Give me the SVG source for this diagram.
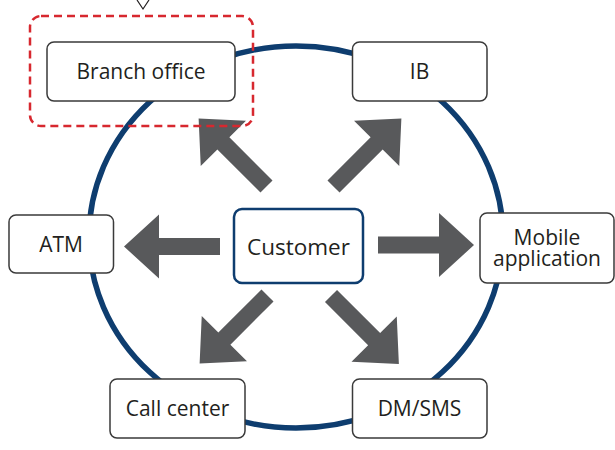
<svg xmlns="http://www.w3.org/2000/svg" xmlns:xlink="http://www.w3.org/1999/xlink" width="615" height="450" viewBox="0 0 615 450">
  <style>
    .box { fill: #ffffff; stroke: #3a3a3a; stroke-width: 1.5; }
    .core { fill: #ffffff; stroke: #0e3d6f; stroke-width: 2.5; }
    .label { font-family: "Open Sans", "Noto Sans", sans-serif; font-size: 21px; fill: #231f20; text-anchor: middle; }
    .big { font-size: 22.5px; }
    .arrow { fill: #58595b; }
  </style>
  <defs>
    <!-- block arrow pointing along +x, origin at tail centre -->
    <path id="blockArrow" d="M0,-8.5 L61,-8.5 L61,-32 L96,0 L61,32 L61,8.5 L0,8.5 Z"/>
  </defs>

  <rect width="615" height="450" fill="#ffffff"/>

  <!-- channel ring -->
  <ellipse cx="296" cy="237" rx="207" ry="191" fill="none" stroke="#0e3d6f" stroke-width="5.5"/>

  <!-- marker above the highlighted node -->
  <polyline points="137,0 143,9 149,0" fill="none" stroke="#231f20" stroke-width="1.2"/>

  <g id="connectors" class="arrow">
    <use xlink:href="#blockArrow" transform="translate(266.5,186.5) rotate(-135)"/>
    <use xlink:href="#blockArrow" transform="translate(333.5,186.5) rotate(-45)"/>
    <use xlink:href="#blockArrow" transform="translate(220,246.5) rotate(180)"/>
    <use xlink:href="#blockArrow" transform="translate(378,245)"/>
    <use xlink:href="#blockArrow" transform="translate(267.5,295.5) rotate(135)"/>
    <use xlink:href="#blockArrow" transform="translate(331,296) rotate(45)"/>
  </g>

  <g id="branch-office">
    <rect class="box" x="47" y="42" width="188" height="59" rx="7"/>
    <text class="label" x="141" y="79">Branch office</text>
  </g>

  <g id="ib">
    <rect class="box" x="352.5" y="42" width="134.5" height="59" rx="7"/>
    <text class="label" x="419.5" y="79">IB</text>
  </g>

  <g id="atm">
    <rect class="box" x="9" y="215" width="104.5" height="58" rx="7"/>
    <text class="label" x="61" y="251.5">ATM</text>
  </g>

  <g id="customer">
    <rect class="core" x="234" y="209" width="129" height="74" rx="8"/>
    <text class="label big" x="298.5" y="254.5">Customer</text>
  </g>

  <g id="mobile-application">
    <rect class="box" x="480" y="213" width="134" height="70" rx="7"/>
    <text class="label" x="547" y="245"><tspan x="547">Mobile</tspan><tspan x="547" dy="21">application</tspan></text>
  </g>

  <g id="call-center">
    <rect class="box" x="110" y="379" width="135" height="59" rx="7"/>
    <text class="label" x="177.5" y="416">Call center</text>
  </g>

  <g id="dm-sms">
    <rect class="box" x="352.5" y="379" width="134.5" height="59" rx="7"/>
    <text class="label" x="419.5" y="416">DM/SMS</text>
  </g>

  <!-- highlight frame around the branch node -->
  <rect x="30" y="16" width="223" height="110" rx="11" fill="none" stroke="#d7282f" stroke-width="2.5" stroke-dasharray="8 5"/>
</svg>
